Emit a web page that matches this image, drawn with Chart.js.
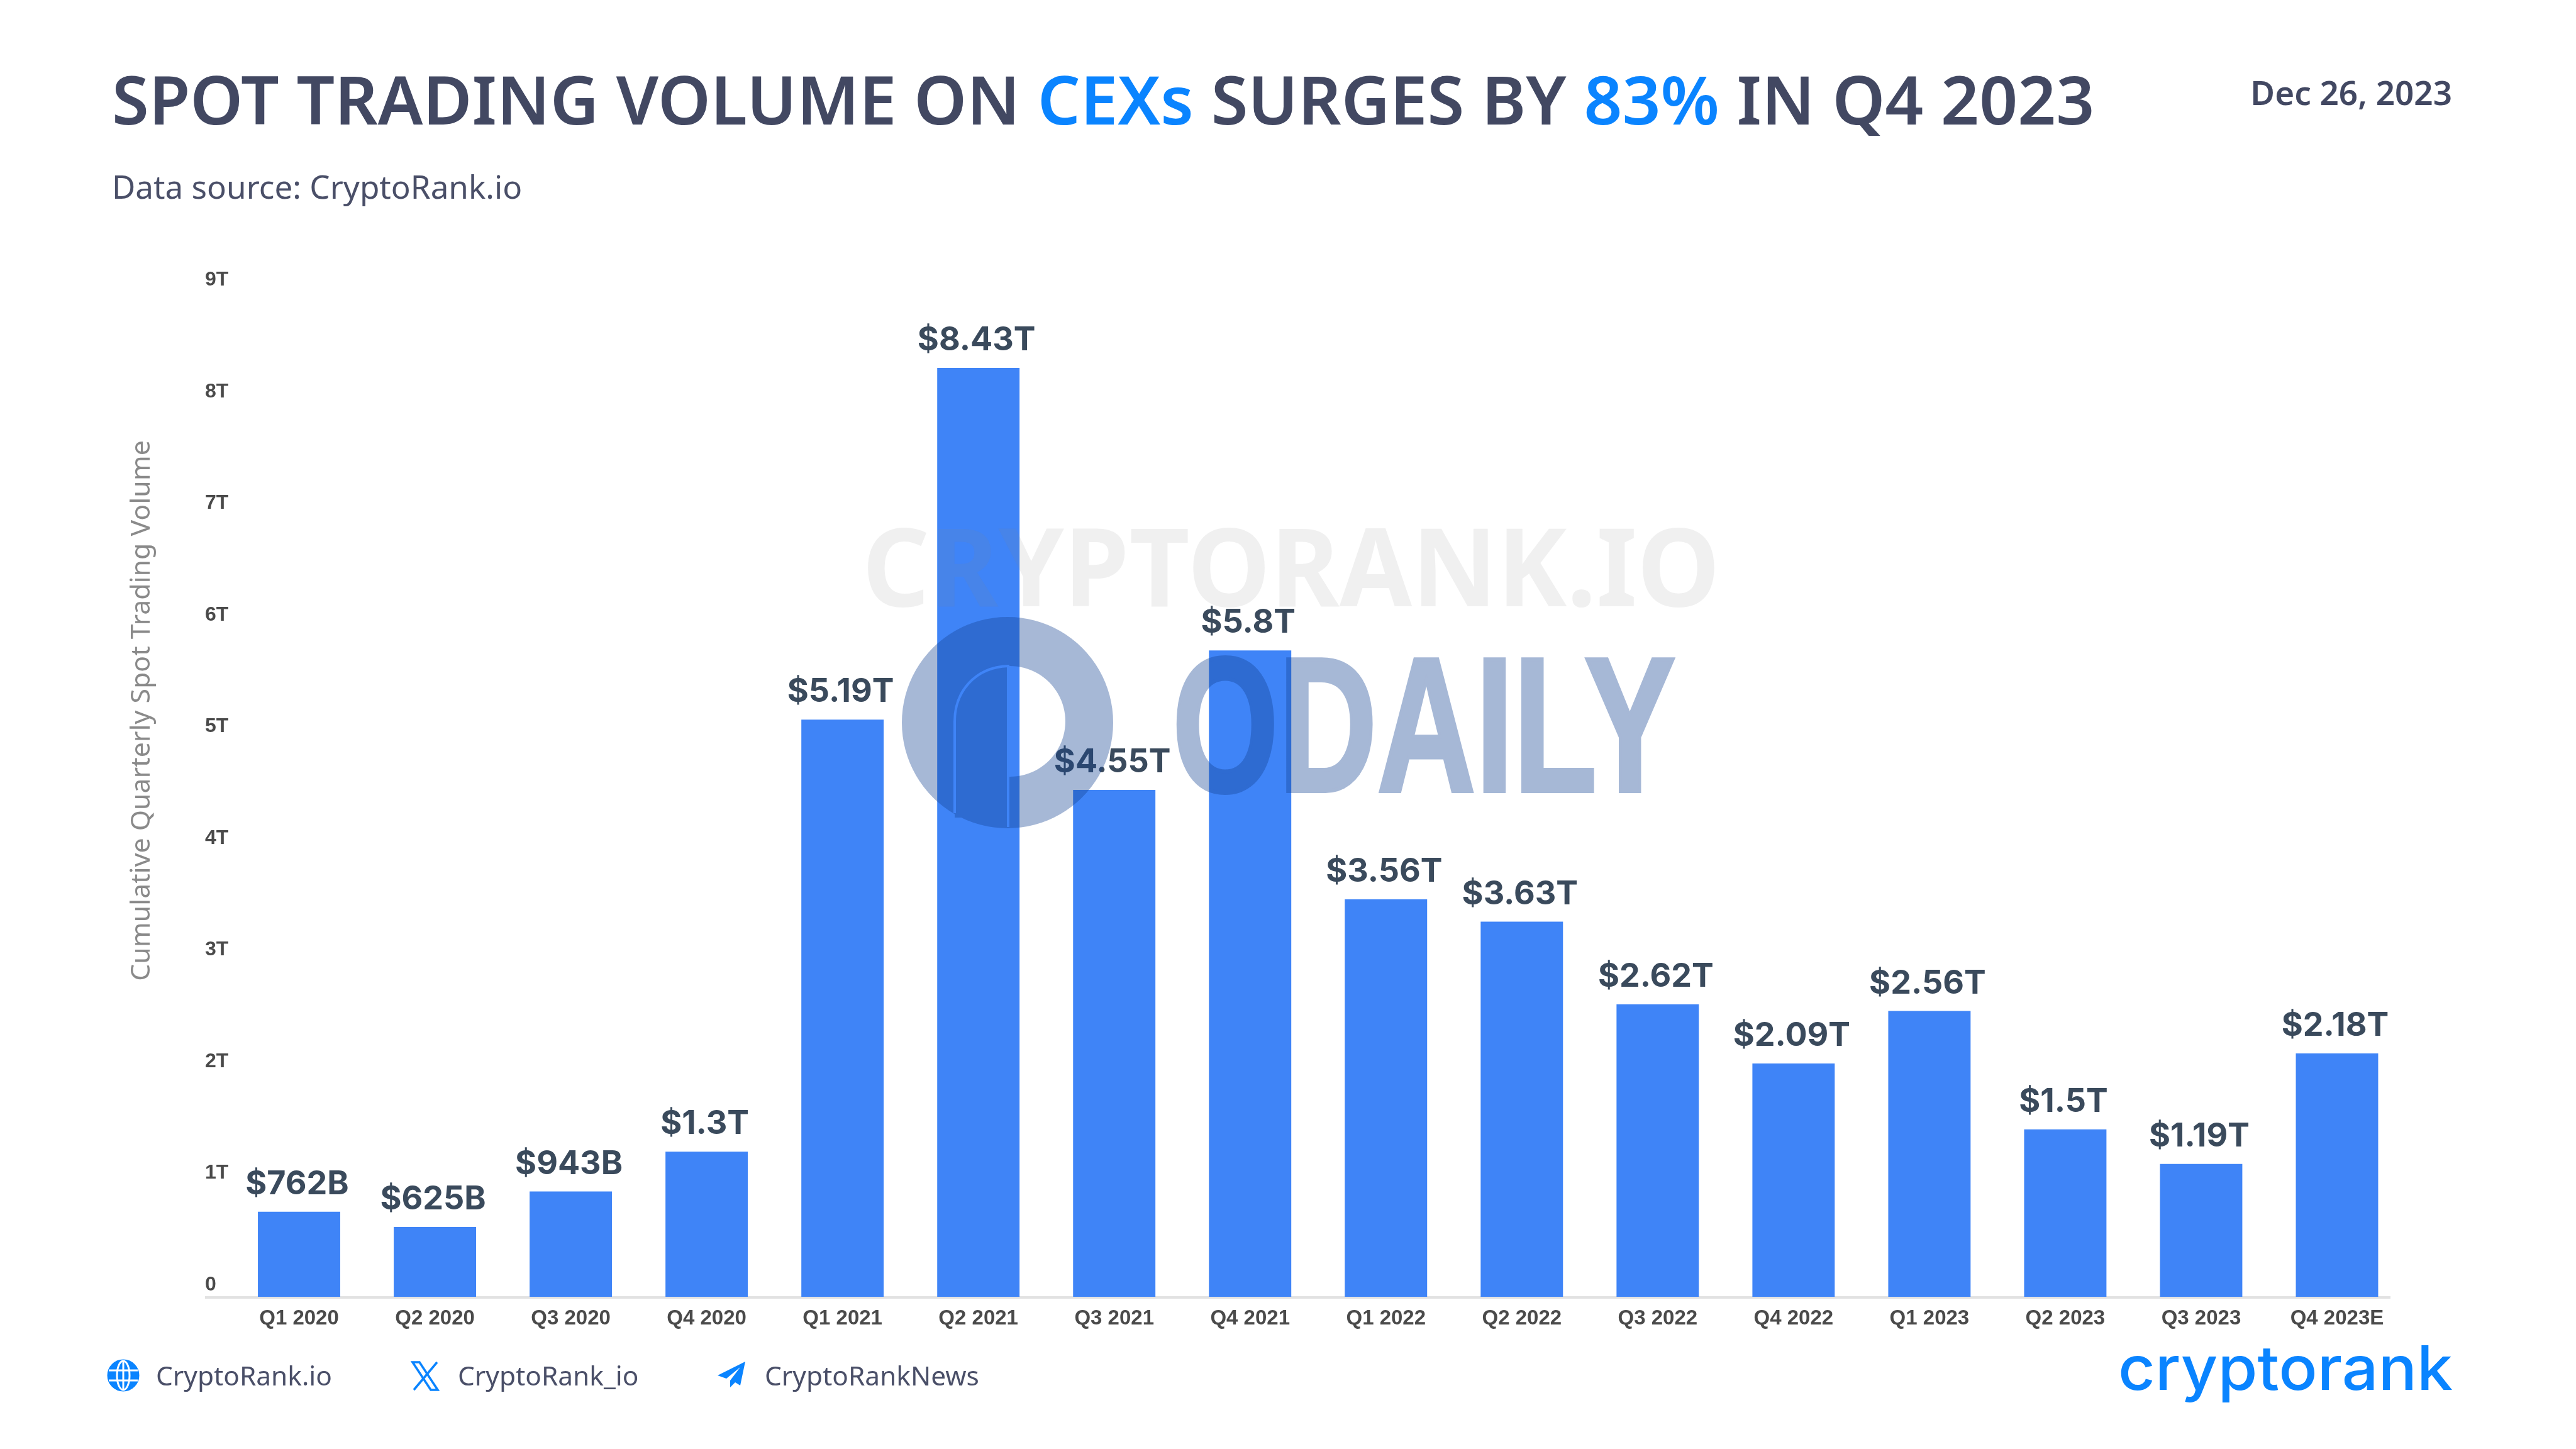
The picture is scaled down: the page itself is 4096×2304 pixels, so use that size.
<!DOCTYPE html>
<html>
<head>
<meta charset="utf-8">
<title>Spot trading volume on CEXs</title>
<script src="https://cdn.jsdelivr.net/npm/chart.js@4/dist/chart.umd.min.js"></script>
<style>
  html,body{margin:0;padding:0;background:#fff;}
  #page{position:relative;width:4096px;height:2304px;overflow:hidden;background:#fff;font-family:"Noto Sans",sans-serif;}
  #chart{position:absolute;left:0;top:0;}
  .txt{position:absolute;white-space:nowrap;line-height:1;}
  #title{left:178px;top:104px;font-size:106.7px;font-weight:600;color:#424862;}
  #title b{font-weight:600;color:#0a84ff;}
  #date{right:197px;top:120px;font-size:53px;font-weight:600;color:#424862;}
  #source{left:178px;top:271px;font-size:51.2px;color:#4a4f68;}
  .foot{top:2166px;font-size:42.4px;color:#4a4f68;}
  #overlay{position:absolute;left:0;top:0;pointer-events:none;}
</style>
</head>
<body>
<div id="page">
  <canvas id="chart" width="4096" height="2304"></canvas>
  <div class="txt" id="title">SPOT TRADING VOLUME ON <b>CEXs</b> SURGES BY <b>83%</b> IN Q4 2023</div>
  <div class="txt" id="date">Dec 26, 2023</div>
  <div class="txt" id="source">Data source: CryptoRank.io</div>
  <div class="txt foot" style="left:248px">CryptoRank.io</div>
  <div class="txt foot" style="left:728px">CryptoRank_io</div>
  <div class="txt foot" style="left:1216px">CryptoRankNews</div>
  <svg id="overlay" width="4096" height="2304" viewBox="0 0 4096 2304">
    <!-- footer icons -->
    <g fill="none" stroke="#0a84ff" stroke-width="5">
      <circle cx="196" cy="2187" r="23" fill="#0a84ff"/>
      <ellipse cx="196" cy="2187" rx="10" ry="23" stroke="#fff" stroke-width="3"/>
      <path d="M196 2164V2210M173 2179H219M173 2195H219" stroke="#fff" stroke-width="3"/>
      <path d="M656 2166H667L696 2210H685ZM695 2166L658 2210" stroke-width="3.5"/>
    </g>
    <path d="M1185 2165L1141 2187L1155 2192L1177 2174L1161 2195L1161 2206L1169 2198L1177 2203Z" fill="#0a84ff"/>
    <!-- logo -->
    <text x="3368" y="2210" font-family="Inter" font-weight="500" font-size="98" fill="#0a84ff" textLength="532" lengthAdjust="spacingAndGlyphs">cryptorank</text>
    <!-- watermarks -->
    <text x="1371" y="964" font-family="Noto Sans" font-weight="700" font-size="172" fill="rgba(128,128,128,0.12)" textLength="1364" lengthAdjust="spacingAndGlyphs">CRYPTORANK.IO</text>
    <g fill="rgb(20,66,146)" opacity="0.375">
      <path fill-rule="evenodd" d="M1602 981a168 168 0 1 0 .01 0ZM1606 1059a88 88 0 1 1 -.01 0Z"/>
      <path d="M1603 1055C1550 1057 1518 1100 1518 1147V1300H1603Z"/>
      <text x="1864" y="1258" font-family="Liberation Sans" font-weight="700" font-size="305" textLength="800" lengthAdjust="spacingAndGlyphs" stroke="rgb(20,66,146)" stroke-width="6">ODAILY</text>
    </g>
    <path d="M1518 1293V1147C1518 1100 1550 1061 1603 1059V1315" fill="none" stroke="#3f84f7" stroke-width="4"/>
  </svg>
</div>
<script>
// data
const categories = ["Q1 2020","Q2 2020","Q3 2020","Q4 2020","Q1 2021","Q2 2021","Q3 2021","Q4 2021","Q1 2022","Q2 2022","Q3 2022","Q4 2022","Q1 2023","Q2 2023","Q3 2023","Q4 2023E"];
const volumes = [0.762,0.625,0.943,1.3,5.17,8.32,4.54,5.79,3.56,3.36,2.62,2.09,2.56,1.5,1.19,2.18];
const valueLabels = ["$762B","$625B","$943B","$1.3T","$5.19T","$8.43T","$4.55T","$5.8T","$3.56T","$3.63T","$2.62T","$2.09T","$2.56T","$1.5T","$1.19T","$2.18T"];
const yTickLabels = ["0","1T","2T","3T","4T","5T","6T","7T","8T","9T"];
const yTitle = "Cumulative Quarterly Spot Trading Volume";

// baseline starts under the y ticks and stops short of the last category
const baseline = {
  id: "baseline",
  beforeDatasetsDraw(chart) {
    const {ctx, scales:{x,y}} = chart;
    const py = y.getPixelForValue(0);
    ctx.save();
    ctx.strokeStyle = "#e2e2e2";
    ctx.lineWidth = 4;
    ctx.beginPath();
    ctx.moveTo(y.left, py+1);
    ctx.lineTo(x.right-23, py+1);
    ctx.stroke();
    ctx.restore();
  }
};

// text above each bar
const barValues = {
  id: "barValues",
  afterDatasetsDraw(chart) {
    const {ctx} = chart;
    ctx.save();
    ctx.font = "700 52px Inter";
    ctx.fillStyle = "#3a4a5c";
    ctx.textAlign = "center";
    ctx.textBaseline = "alphabetic";
    chart.getDatasetMeta(0).data.forEach((bar,i)=>{
      ctx.fillText(valueLabels[i], bar.x-3, bar.y-28);
    });
    ctx.restore();
  }
};

new Chart(document.getElementById("chart"),{
  type:"bar",
  data:{labels:categories,datasets:[{data:volumes,backgroundColor:"#3f84f7",borderWidth:0,categoryPercentage:1,barPercentage:0.606}]},
  options:{
    responsive:false,
    animation:false,
    devicePixelRatio:1,
    layout:{padding:{left:200,right:272,top:198,bottom:180}},
    plugins:{legend:{display:false},tooltip:{enabled:false}},
    scales:{
      x:{
        grid:{display:false,drawTicks:false},
        border:{display:false},
        ticks:{color:"#4a4a4a",font:{family:"Liberation Sans",size:33,weight:"bold"},padding:15,maxRotation:0,autoSkip:false},
        afterFit(s){s.height=62;}
      },
      y:{
        min:0,max:10.5,
        grid:{display:false,drawTicks:false},
        border:{display:false},
        ticks:{
          stepSize:1,includeBounds:false,crossAlign:"far",labelOffset:-19,
          color:"#4a4a4a",font:{family:"Liberation Sans",size:32,weight:"bold"},
          callback:v=>yTickLabels[v]
        },
        afterFit(s){s.width=41.5;}
      },
      yTitleAxis:{
        position:"left",
        display:true,
        grid:{display:false,drawTicks:false},
        border:{display:false},
        ticks:{display:false},
        title:{display:true,text:yTitle,color:"#8a8a8a",font:{family:"Noto Sans",size:42.8},padding:0},
        afterFit(s){s.width=126;}
      }
    }
  },
  plugins:[baseline,barValues]
});
</script>
</body>
</html>
